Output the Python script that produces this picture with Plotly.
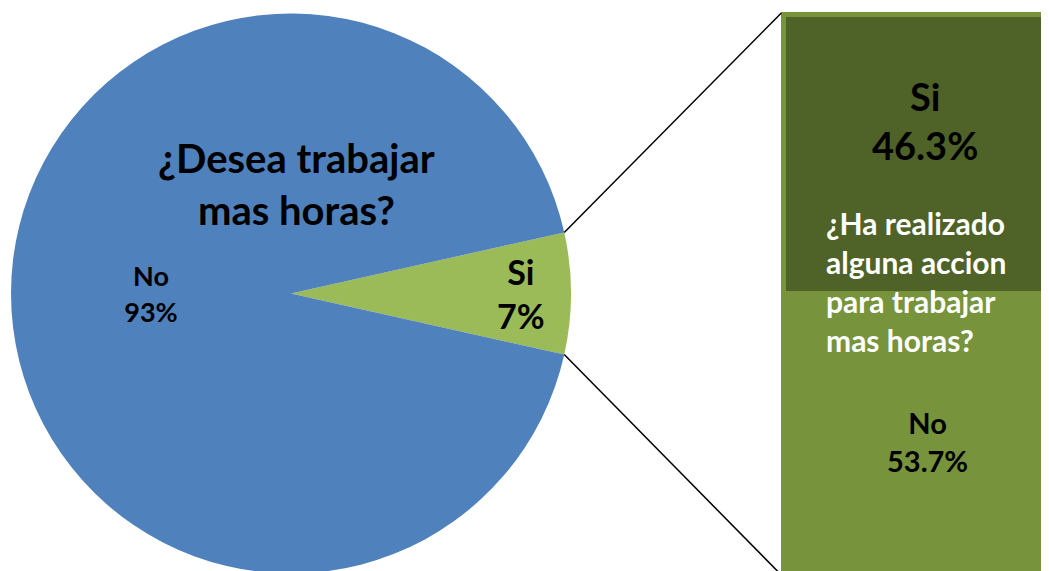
import math
import plotly.graph_objects as go

# ---- data ----
pie_labels = ["Si", "No"]
pie_values = [7, 93]
bar_labels = ["No", "Si"]
bar_values = [53.7, 46.3]
pie_title = "¿Desea trabajar<br>mas horas?"
bar_title = "¿Ha realizado<br>alguna accion<br>para trabajar<br>mas horas?"

W, H = 1049, 571
OFF = 8  # page offset of the plot div (body margin)
FONT = "Lato"
BLUE, SLICE_GREEN = "#4F81BD", "#9BBB59"
DARK, LIGHT = "#4F6228", "#77933C"


def px(x):
    return (x - OFF) / W


def py(y):
    return 1 - (y - OFF) / H


# pie geometry (page pixels)
pie_left, pie_right = 11, 571
r = (pie_right - pie_left) / 2
cx = (pie_left + pie_right) / 2
cy = OFF + H / 2
half_angle = pie_values[0] / sum(pie_values) * 360 / 2

fig = go.Figure()
fig.add_trace(go.Pie(
    labels=pie_labels, values=pie_values, sort=False, direction="clockwise",
    rotation=90 - half_angle,
    marker=dict(colors=[SLICE_GREEN, BLUE], line=dict(width=0)),
    domain=dict(x=[px(pie_left), px(pie_right)], y=[0, 1]),
    texttemplate="<b>%{label}<br>%{percent}</b>",
    textposition="inside", insidetextorientation="horizontal",
    textfont=dict(family=FONT, size=[34, 27], color="black"),
    hoverinfo="label+percent", showlegend=False,
))

# bar (bar of pie)
bar_dom_left = 770
bar_colors = {"No": LIGHT, "Si": DARK}
for lab, val in zip(bar_labels, bar_values):
    fig.add_trace(go.Bar(
        x=[0], y=[val], width=[1], name=lab,
        marker=dict(color=bar_colors[lab], line=dict(color=LIGHT, width=5)),
        xaxis="x", yaxis="y", showlegend=False,
    ))

# y mapping (page pixels): 100 at 15, 0 at 618
top_px, bot_px = 15, 618
ppu = (bot_px - top_px) / 100
y_hi = 100 + (top_px - OFF) / ppu
y_lo = y_hi - H / ppu

fig.update_layout(
    width=W, height=H, margin=dict(l=0, r=0, t=0, b=0),
    paper_bgcolor="white", plot_bgcolor="rgba(0,0,0,0)",
    barmode="stack", bargap=0,
    xaxis=dict(domain=[px(bar_dom_left), 1], range=[-0.55, 0.45], visible=False, fixedrange=True),
    yaxis=dict(domain=[0, 1], range=[y_lo, y_hi], visible=False, fixedrange=True),
    font=dict(family=FONT),
)

# connector lines from pie slice edges to bar corners
bar_left_px = bar_dom_left + 0.05 * (W - px(bar_dom_left) * W)
a = math.radians(half_angle)
ex = cx + r * math.cos(a)
for sgn, ty in [(-1, top_px - 2), (1, 575)]:
    ey = cy + sgn * r * math.sin(a)
    fig.add_shape(type="line", xref="paper", yref="paper",
                  x0=px(ex), y0=py(ey), x1=px(bar_left_px - 3), y1=py(ty),
                  line=dict(color="black", width=1.5))


def label(x, y, text, size, color="black", xanchor="center", align="center"):
    fig.add_annotation(x=px(x), y=py(y), xref="paper", yref="paper",
                       xanchor=xanchor, yanchor="middle",
                       text="<b>" + text + "</b>", showarrow=False,
                       font=dict(family=FONT, size=size, color=color), align=align)


label(296, 184, pie_title, 40)
label(925, 121, bar_labels[1] + "<br>" + f"{bar_values[1]:.1f}%", 38)
label(824, 281, bar_title, 30, color="white", xanchor="left", align="left")
label(927, 441, bar_labels[0] + "<br>" + f"{bar_values[0]:.1f}%", 29)

fig.write_html("out.html", config={"displayModeBar": False})
